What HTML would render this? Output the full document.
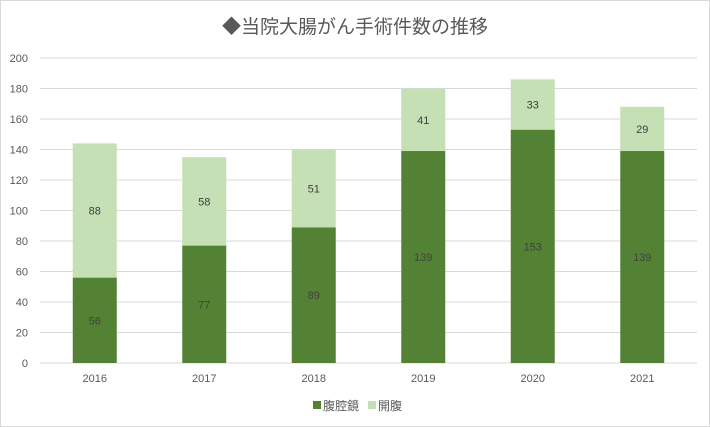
<!DOCTYPE html>
<html><head><meta charset="utf-8"><style>
body{margin:0;background:#fff}
svg{display:block;font-family:"Liberation Sans","Noto Sans CJK JP",sans-serif}
</style></head><body>
<svg width="710" height="427">
<rect x="0.5" y="0.5" width="709" height="426" fill="#fff" stroke="#d9d9d9"/>
<text x="355" y="33" text-anchor="middle" font-size="19" fill="#595959" font-family="'Noto Sans CJK JP',sans-serif">◆当院大腸がん手術件数の推移</text>
<g id="grid"></g><g id="bars"></g><g id="xlabels"></g>
<g>
<rect x="313" y="401" width="8" height="8" fill="#548235"/>
<text x="323" y="410" font-size="12" fill="#595959" font-family="'Noto Sans CJK JP',sans-serif">腹腔鏡</text>
<rect x="368" y="401" width="8" height="8" fill="#c5e0b4"/>
<text x="378" y="410" font-size="12" fill="#595959" font-family="'Noto Sans CJK JP',sans-serif">開腹</text>
</g>
</svg>
<script>
const categories=["2016","2017","2018","2019","2020","2021"];
const laparoscopic=[56,77,89,139,153,139];
const openSurgery=[88,58,51,41,33,29];
const yTicks=[0,20,40,60,80,100,120,140,160,180,200];
const NS="http://www.w3.org/2000/svg";
const x0=40,x1=697,yBase=363,yTop=58,yMax=200;
const y=v=>yBase-(v/yMax)*(yBase-yTop);
const band=(x1-x0)/categories.length;
const cx=i=>x0+band*(i+0.5);
const bw=44;
function mk(tag,attrs,parent){const e=document.createElementNS(NS,tag);for(const k in attrs)e.setAttribute(k,attrs[k]);parent.appendChild(e);return e;}
const grid=document.getElementById('grid'),bars=document.getElementById('bars'),xl=document.getElementById('xlabels');
yTicks.forEach(t=>{
 const l=mk('line',{x1:x0,x2:x1,y1:y(t),y2:y(t),stroke:'#d9d9d9','stroke-width':1},grid);
 
 
 const tx=mk('text',{x:28,y:y(t)+4,'text-anchor':'end','font-size':11,fill:'#595959'},grid);
 tx.textContent=t;
 
 
});
categories.forEach((c,i)=>{
 const a=laparoscopic[i],b=openSurgery[i];
 const r1=mk('rect',{x:cx(i)-bw/2,y:y(a),width:bw,height:yBase-y(a),fill:'#548235'},bars);
 
 
 const r2=mk('rect',{x:cx(i)-bw/2,y:y(a+b),width:bw,height:y(a)-y(a+b),fill:'#c5e0b4'},bars);
 
 
 const t1=mk('text',{x:cx(i),y:(y(a)+yBase)/2+4,'text-anchor':'middle','font-size':11,fill:'#404040'},bars);
 t1.textContent=a;
 
 
 const t2=mk('text',{x:cx(i),y:(y(a)+y(a+b))/2+4,'text-anchor':'middle','font-size':11,fill:'#404040'},bars);
 t2.textContent=b;
 
 
 const xt=mk('text',{x:cx(i),y:382,'text-anchor':'middle','font-size':11,fill:'#595959'},xl);
 xt.textContent=c;
 
 
});
</script>
</body></html>
